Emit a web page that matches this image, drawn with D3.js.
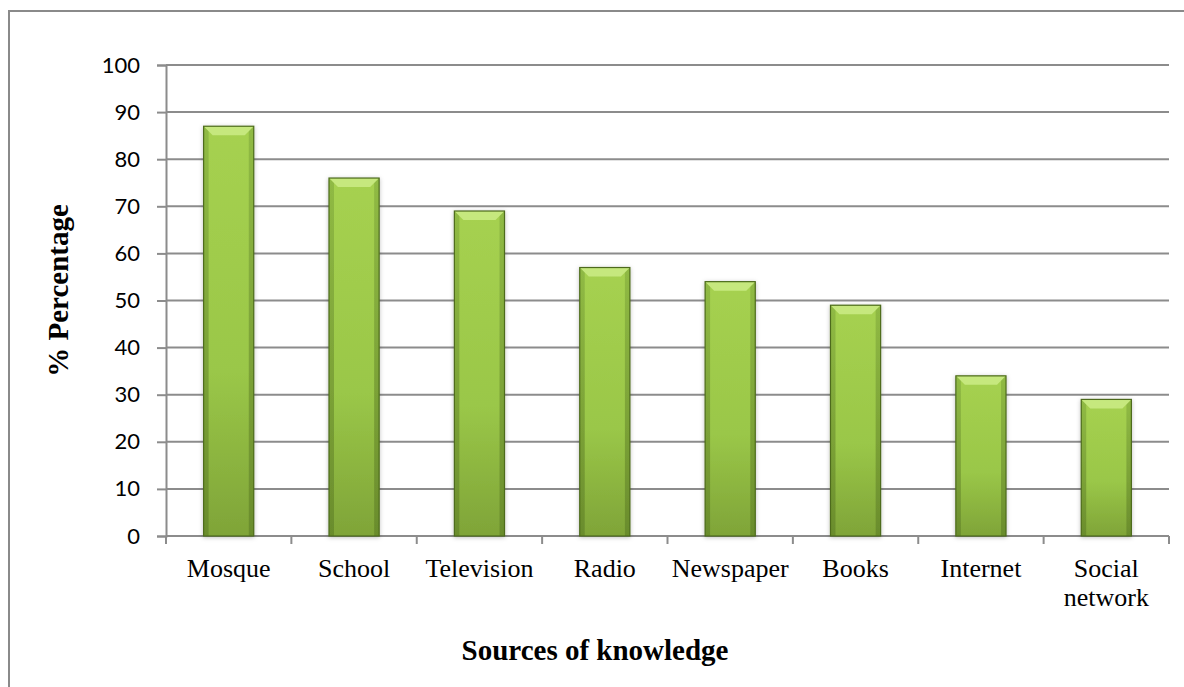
<!DOCTYPE html>
<html>
<head>
<meta charset="utf-8">
<script src="https://cdn.jsdelivr.net/npm/d3@7"></script>
<style>
  body { margin: 0; background: #fff; }
  svg { display: block; }
</style>
</head>
<body>
<div id="chart"></div>
<script>
// data
var categories = ["Mosque", "School", "Television", "Radio", "Newspaper", "Books", "Internet", "Social network"];
var percentages = [87, 76, 69, 57, 54, 49, 34, 29];
var yTicks = [0, 10, 20, 30, 40, 50, 60, 70, 80, 90, 100];

const W = 1184, H = 687;
const margin = {top: 65, right: 15, bottom: 151, left: 166},
width = W - margin.left - margin.right,
height = H - margin.top - margin.bottom;

var svg = d3.select("#chart").append("svg")
    .attr("width", W)
    .attr("height", H);

// outer frame (runs off the right and bottom of the picture)
svg.append("rect")
    .attr("x", 9).attr("y", 11)
    .attr("width", W + 20).attr("height", H + 20)
    .attr("fill", "none")
    .attr("stroke", "#8a8a8a")
    .attr("stroke-width", 2);

var defs = svg.append("defs");
var bodyGrad = defs.append("linearGradient").attr("id", "barBody")
    .attr("x1", 0).attr("y1", 0).attr("x2", 0).attr("y2", 1);
bodyGrad.append("stop").attr("offset", "0%").attr("stop-color", "#a6d150");
bodyGrad.append("stop").attr("offset", "60%").attr("stop-color", "#9ac748");
bodyGrad.append("stop").attr("offset", "100%").attr("stop-color", "#7fa438");

var sideGrad = defs.append("linearGradient").attr("id", "barSide")
    .attr("x1", 0).attr("y1", 0).attr("x2", 0).attr("y2", 1);
sideGrad.append("stop").attr("offset", "0%").attr("stop-color", "#8cb642");
sideGrad.append("stop").attr("offset", "100%").attr("stop-color", "#66882a");

var shadow = defs.append("filter").attr("id", "shadow")
    .attr("x", "-20%").attr("y", "-10%").attr("width", "140%").attr("height", "120%");
shadow.append("feDropShadow").attr("dx", 0).attr("dy", 1).attr("stdDeviation", 2)
    .attr("flood-color", "#000").attr("flood-opacity", 0.25);

var g = svg.append("g")
    .attr("transform", "translate(" + margin.left + "," + margin.top + ")");

var xScale = d3.scaleBand()
    .domain(categories)
    .range([0, width])
    .paddingInner(0.6)
    .paddingOuter(0.3);

var yScale = d3.scaleLinear()
    .domain([0, 100])
    .range([height, 0]);

// gridlines
g.append("g").selectAll("line")
    .data(yTicks.filter(d => d > 0))
    .enter().append("line")
    .attr("x1", 0).attr("x2", width)
    .attr("y1", d => yScale(d)).attr("y2", d => yScale(d))
    .attr("stroke", "#8c8c8c")
    .attr("stroke-width", 2);

// y axis
var yAxis = g.append("g")
    .call(d3.axisLeft(yScale).tickValues(yTicks).tickSize(9).tickPadding(17));
yAxis.select(".domain").attr("stroke", "#8c8c8c").attr("stroke-width", 2);
yAxis.selectAll(".tick line").attr("stroke", "#8c8c8c").attr("stroke-width", 2);
yAxis.selectAll("text")
    .attr("fill", "#000")
    .style("font-family", "Lato, 'Open Sans', sans-serif")
    .style("font-size", "22px");

// x axis: ticks between the categories
var step = width / categories.length;
var xAxis = g.append("g").attr("transform", "translate(0," + height + ")");
xAxis.append("line")
    .attr("x1", 0).attr("x2", width)
    .attr("stroke", "#8c8c8c").attr("stroke-width", 2);
xAxis.selectAll(".xtick")
    .data(d3.range(categories.length + 1))
    .enter().append("line")
    .attr("class", "xtick")
    .attr("x1", i => i * step).attr("x2", i => i * step)
    .attr("y1", 0).attr("y2", 8)
    .attr("stroke", "#8c8c8c").attr("stroke-width", 2);

// category labels (wrap two-word label like the original)
xAxis.selectAll(".xlabel")
    .data(categories)
    .enter().append("text")
    .attr("class", "xlabel")
    .attr("x", d => xScale(d) + xScale.bandwidth() / 2)
    .attr("y", 41)
    .attr("text-anchor", "middle")
    .style("font-family", "'Liberation Serif', 'Times New Roman', serif")
    .style("font-size", "26px")
    .attr("fill", "#000")
    .each(function(d) {
        var words = d === "Social network" ? ["Social", "network"] : [d];
        var t = d3.select(this);
        words.forEach((w, i) => {
            t.append("tspan")
                .attr("x", xScale(d) + xScale.bandwidth() / 2)
                .attr("dy", i === 0 ? 0 : 29)
                .text(w);
        });
    });

// bars with bevel
var bev = 9;
var bars = g.append("g").selectAll(".bar")
    .data(categories)
    .enter().append("g")
    .attr("class", "bar")
    .attr("filter", "url(#shadow)");

bars.append("rect")
    .attr("x", d => xScale(d))
    .attr("y", (d, i) => yScale(percentages[i]))
    .attr("width", xScale.bandwidth())
    .attr("height", (d, i) => height - yScale(percentages[i]))
    .attr("fill", "url(#barBody)");

// side strips
bars.append("rect")
    .attr("x", d => xScale(d))
    .attr("y", (d, i) => yScale(percentages[i]))
    .attr("width", 5)
    .attr("height", (d, i) => height - yScale(percentages[i]))
    .attr("fill", "url(#barSide)")
    .attr("opacity", 0.85);
bars.append("rect")
    .attr("x", d => xScale(d) + xScale.bandwidth() - 5)
    .attr("y", (d, i) => yScale(percentages[i]))
    .attr("width", 5)
    .attr("height", (d, i) => height - yScale(percentages[i]))
    .attr("fill", "url(#barSide)")
    .attr("opacity", 0.85);

// top bevel
bars.append("path")
    .attr("d", (d, i) => {
        var x0 = xScale(d), x1 = x0 + xScale.bandwidth(), y0 = yScale(percentages[i]);
        return "M" + x0 + "," + y0 + "L" + x1 + "," + y0 +
            "L" + (x1 - bev) + "," + (y0 + bev) + "L" + (x0 + bev) + "," + (y0 + bev) + "Z";
    })
    .attr("fill", "#c6e87e");

bars.append("rect")
    .attr("x", d => xScale(d))
    .attr("y", (d, i) => yScale(percentages[i]))
    .attr("width", xScale.bandwidth())
    .attr("height", (d, i) => height - yScale(percentages[i]))
    .attr("fill", "none")
    .attr("stroke", "#4d6b1c")
    .attr("stroke-width", 1.2);

// axis titles
svg.append("text")
    .attr("transform", "translate(68," + (margin.top + height / 2 - 10) + ") rotate(-90)")
    .attr("text-anchor", "middle")
    .style("font-family", "'Liberation Serif', 'Times New Roman', serif")
    .style("font-size", "29px")
    .style("font-weight", "bold")
    .text("% Percentage");

svg.append("text")
    .attr("x", 595)
    .attr("y", 660)
    .attr("text-anchor", "middle")
    .style("font-family", "'Liberation Serif', 'Times New Roman', serif")
    .style("font-size", "29px")
    .style("font-weight", "bold")
    .text("Sources of knowledge");
</script>
</body>
</html>
